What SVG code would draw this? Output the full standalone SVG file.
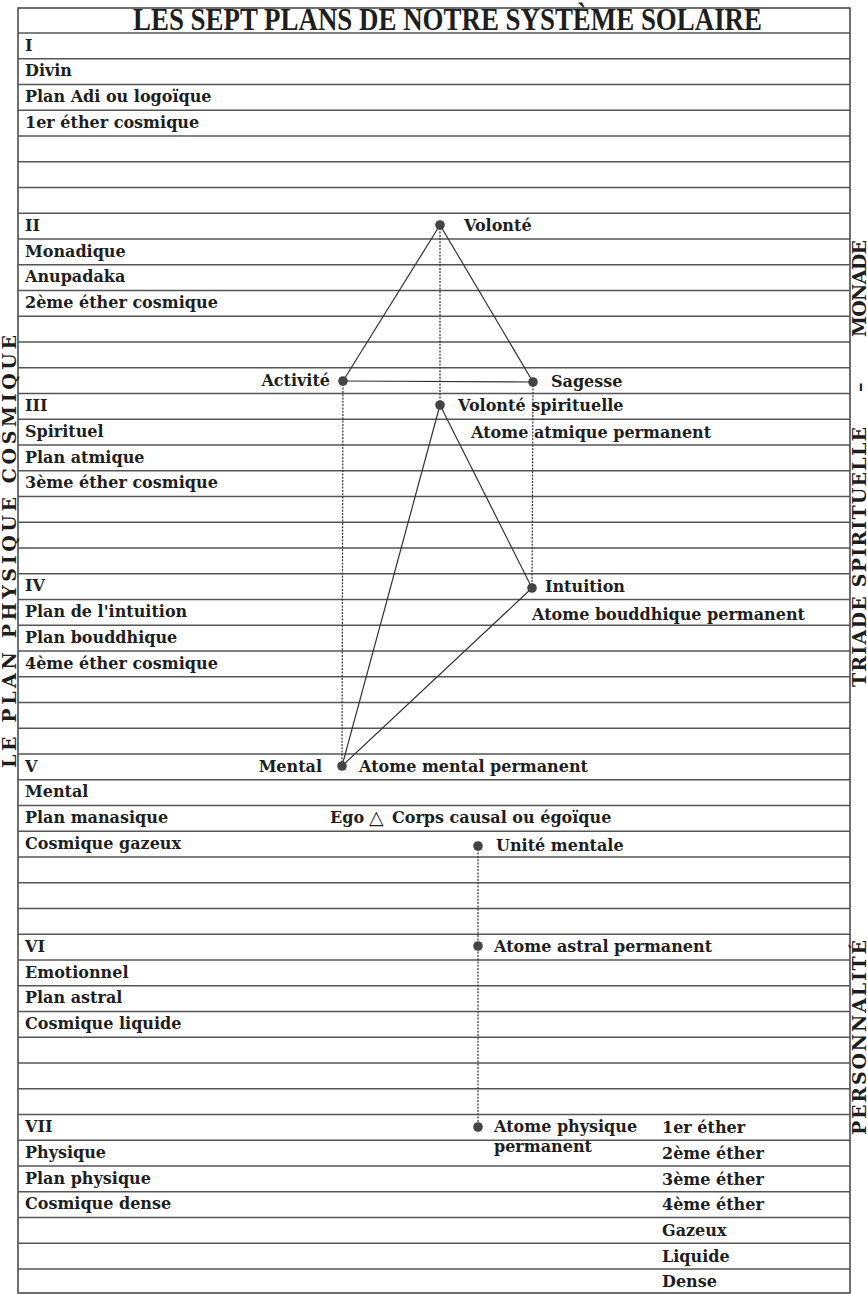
<svg xmlns="http://www.w3.org/2000/svg" width="867" height="1294" viewBox="0 0 867 1294">
<style>
.bg{fill:#ffffff}
.row{stroke:#555;stroke-width:1.3}
.frame{fill:none;stroke:#333;stroke-width:1.4}
.t{font-family:"DejaVu Serif","Liberation Serif",serif;font-weight:bold;font-size:16px;fill:#1e1e1e}
.title{font-family:"Liberation Serif","DejaVu Serif",serif;font-weight:bold;font-size:31px;fill:#1e1e1e}
.side{font-family:"DejaVu Serif","Liberation Serif",serif;font-weight:bold;font-size:19px;fill:#1e1e1e}
.tri{font-family:"DejaVu Sans",sans-serif;font-size:19px;font-weight:normal;fill:#1e1e1e}
.dot{fill:#444}
.solid{stroke:#333;stroke-width:1.2;fill:none}
.dash{stroke:#333;stroke-width:1.2;stroke-dasharray:2 1.3;fill:none}
</style>
<rect class="bg" x="0" y="0" width="867" height="1294"/>

<g id="grid">
<rect class="frame" x="18" y="8" width="832" height="1285"/>
<path class="row" d="M18 33H850M18 58.75H850M18 84.5H850M18 110.25H850M18 136H850M18 161.75H850M18 187.5H850M18 213.25H850M18 239H850M18 264.75H850M18 290.5H850M18 316.25H850M18 342H850M18 367.75H850M18 393.5H850M18 419.25H850M18 445H850M18 470.75H850M18 496.5H850M18 522.25H850M18 548H850M18 573.75H850M18 599.5H850M18 625.25H850M18 651H850M18 676.75H850M18 702.5H850M18 728.25H850M18 754H850M18 779.75H850M18 805.5H850M18 831.25H850M18 857H850M18 882.75H850M18 908.5H850M18 934.25H850M18 960H850M18 985.75H850M18 1011.5H850M18 1037.25H850M18 1063H850M18 1088.75H850M18 1114.5H850M18 1140.25H850M18 1166H850M18 1191.75H850M18 1217.5H850M18 1243.25H850M18 1269H850"/>
</g>

<g id="title">
<text class="title" x="133" y="30" textLength="629" lengthAdjust="spacingAndGlyphs">LES SEPT PLANS DE NOTRE SYSTÈME SOLAIRE</text>
</g>

<g id="plan-I">
<text class="t" x="25" y="50.5">I</text>
<text class="t" x="25" y="76.25">Divin</text>
<text class="t" x="25" y="102">Plan Adi ou logoïque</text>
<text class="t" x="25" y="127.75">1er éther cosmique</text>
</g>
<g id="plan-II">
<text class="t" x="25" y="230.75">II</text>
<text class="t" x="25" y="256.5">Monadique</text>
<text class="t" x="25" y="282.25">Anupadaka</text>
<text class="t" x="25" y="308">2ème éther cosmique</text>
</g>
<g id="plan-III">
<text class="t" x="25" y="411">III</text>
<text class="t" x="25" y="436.75">Spirituel</text>
<text class="t" x="25" y="462.5">Plan atmique</text>
<text class="t" x="25" y="488.25">3ème éther cosmique</text>
</g>
<g id="plan-IV">
<text class="t" x="25" y="591.25">IV</text>
<text class="t" x="25" y="617">Plan de l'intuition</text>
<text class="t" x="25" y="642.75">Plan bouddhique</text>
<text class="t" x="25" y="668.5">4ème éther cosmique</text>
</g>
<g id="plan-V">
<text class="t" x="25" y="771.5">V</text>
<text class="t" x="25" y="797.25">Mental</text>
<text class="t" x="25" y="823">Plan manasique</text>
<text class="t" x="25" y="848.75">Cosmique gazeux</text>
</g>
<g id="plan-VI">
<text class="t" x="25" y="951.75">VI</text>
<text class="t" x="25" y="977.5">Emotionnel</text>
<text class="t" x="25" y="1003.25">Plan astral</text>
<text class="t" x="25" y="1029">Cosmique liquide</text>
</g>
<g id="plan-VII">
<text class="t" x="25" y="1132">VII</text>
<text class="t" x="25" y="1157.75">Physique</text>
<text class="t" x="25" y="1183.5">Plan physique</text>
<text class="t" x="25" y="1209.25">Cosmique dense</text>
</g>

<g id="connectors">
<line class="solid" x1="440" y1="225" x2="343" y2="381"/>
<line class="solid" x1="440" y1="225" x2="533" y2="382"/>
<line class="solid" x1="343" y1="381" x2="533" y2="382"/>
<line class="dash" x1="440" y1="225" x2="440" y2="405"/>
<line class="dash" x1="343" y1="381" x2="342" y2="766"/>
<line class="dash" x1="533" y1="382" x2="532" y2="588"/>
<line class="solid" x1="440" y1="405" x2="532" y2="588"/>
<line class="solid" x1="440" y1="405" x2="342" y2="766"/>
<line class="solid" x1="532" y1="588" x2="342" y2="766"/>
<line class="dash" x1="478" y1="846" x2="478" y2="1127"/>
</g>

<g id="volonte"><circle class="dot" cx="440" cy="225" r="4.8"/><text class="t" x="464" y="230.75">Volonté</text></g>
<g id="activite"><circle class="dot" cx="343" cy="381" r="4.8"/><text class="t" x="330" y="386" text-anchor="end">Activité</text></g>
<g id="sagesse"><circle class="dot" cx="533" cy="382" r="4.8"/><text class="t" x="551" y="387">Sagesse</text></g>
<g id="volonte-spirituelle"><circle class="dot" cx="440" cy="405" r="4.8"/><text class="t" x="458" y="411">Volonté spirituelle</text><text class="t" x="471" y="438">Atome atmique permanent</text></g>
<g id="intuition"><circle class="dot" cx="532" cy="588" r="4.8"/><text class="t" x="545" y="592">Intuition</text><text class="t" x="532" y="620">Atome bouddhique permanent</text></g>
<g id="mental"><circle class="dot" cx="342" cy="766" r="4.8"/><text class="t" x="322" y="771.5" text-anchor="end">Mental</text><text class="t" x="359" y="771.5">Atome mental permanent</text></g>
<g id="ego"><text class="t" x="330" y="823">Ego <tspan class="tri" x="369" y="824">△</tspan><tspan x="392" y="823">Corps causal ou égoïque</tspan></text></g>
<g id="unite-mentale"><circle class="dot" cx="478" cy="846" r="4.8"/><text class="t" x="496" y="850.5">Unité mentale</text></g>
<g id="atome-astral"><circle class="dot" cx="478" cy="946" r="4.8"/><text class="t" x="494" y="952">Atome astral permanent</text></g>
<g id="atome-physique"><circle class="dot" cx="478" cy="1127" r="4.8"/><text class="t" x="494" y="1132">Atome physique</text><text class="t" x="494" y="1152">permanent</text></g>

<g id="sous-plans">
<text class="t" x="662" y="1133">1er éther</text>
<text class="t" x="662" y="1159">2ème éther</text>
<text class="t" x="662" y="1184.5">3ème éther</text>
<text class="t" x="662" y="1210">4ème éther</text>
<text class="t" x="662" y="1236">Gazeux</text>
<text class="t" x="662" y="1261.5">Liquide</text>
<text class="t" x="662" y="1287">Dense</text>
</g>

<g id="side-left">
<text class="side" transform="translate(16,768) rotate(-90)" x="0" y="0" textLength="433" lengthAdjust="spacing">LE PLAN PHYSIQUE COSMIQUE</text>
</g>
<g id="side-right">
<text class="side" transform="translate(865.5,687) rotate(-90)" x="0" y="0" textLength="260" lengthAdjust="spacing">TRIADE SPIRITUELLE</text>
<text class="side" transform="translate(865.5,687) rotate(-90)" x="295" y="0">–</text>
<text class="side" transform="translate(865.5,687) rotate(-90)" x="350" y="0" textLength="97" lengthAdjust="spacing">MONADE</text>
<text class="side" transform="translate(865.5,1135) rotate(-90)" x="0" y="0" textLength="195" lengthAdjust="spacing">PERSONNALITÉ</text>
</g>
</svg>
